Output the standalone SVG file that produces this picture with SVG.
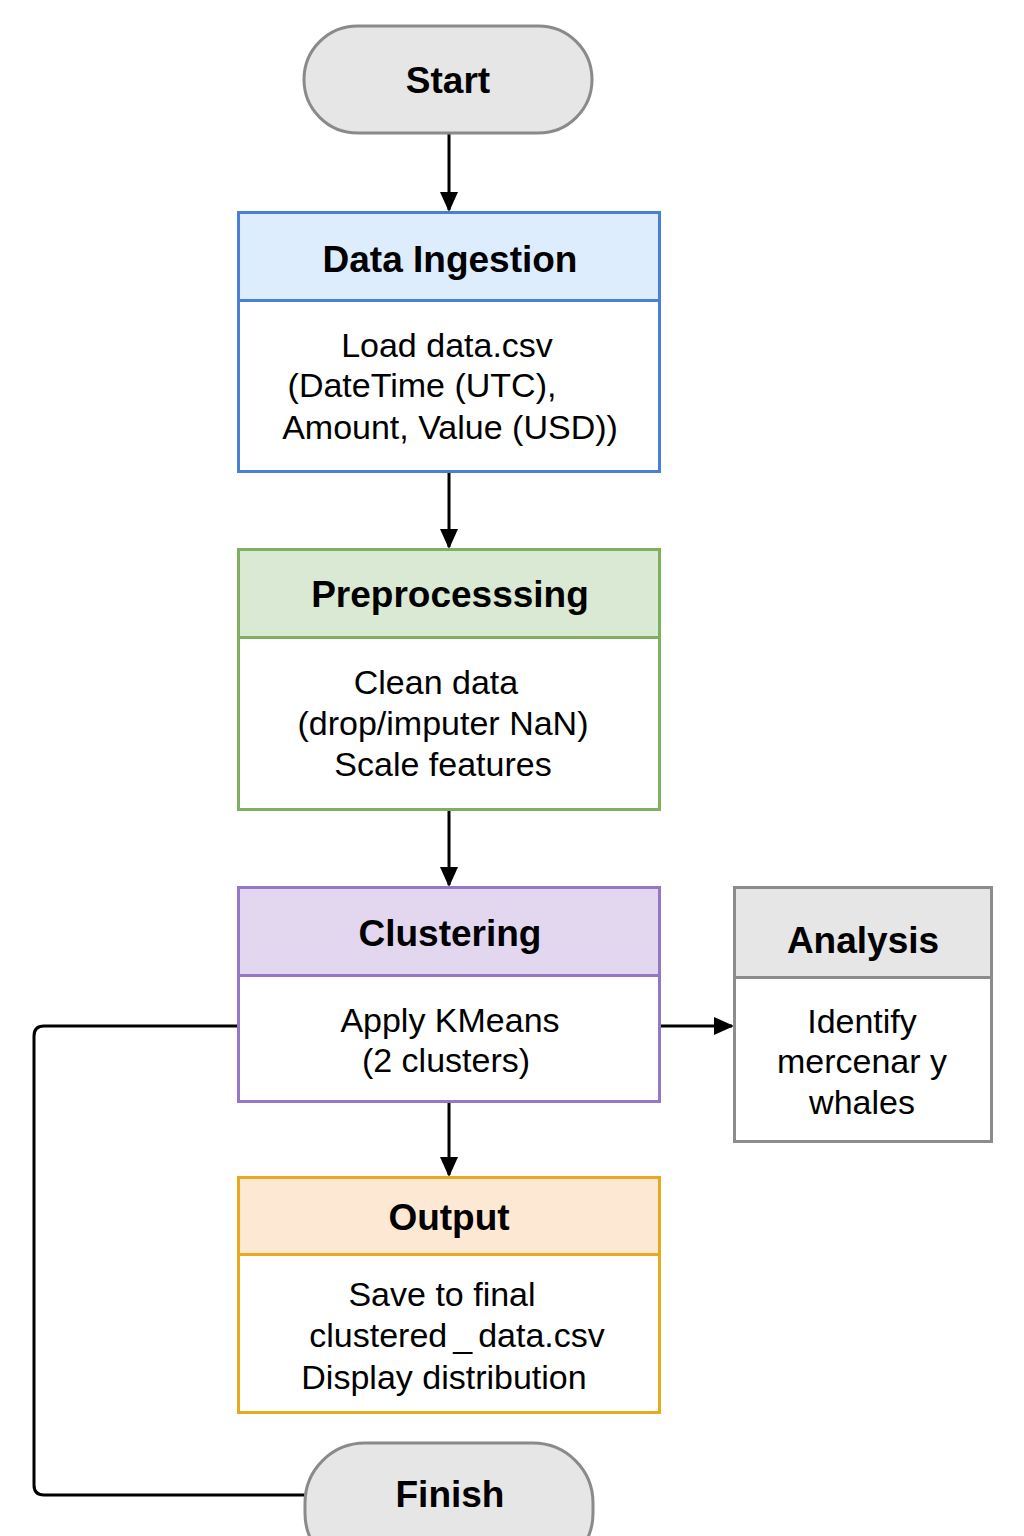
<svg xmlns="http://www.w3.org/2000/svg" width="1024" height="1536" viewBox="0 0 1024 1536">
<defs>
<style>
.title{font-family:"Liberation Sans",Arial,sans-serif;font-weight:bold;font-size:37px;fill:#000;text-anchor:middle}
.body{font-family:"Liberation Sans",Arial,sans-serif;font-size:34px;fill:#000;text-anchor:middle}
.pill{fill:#e6e6e6;stroke:#8a8a8a;stroke-width:3}
.conn{fill:none;stroke:#000;stroke-width:3}
</style>
<marker id="arr" markerWidth="20" markerHeight="18" refX="18" refY="9" orient="auto" markerUnits="userSpaceOnUse" viewBox="0 0 20 18">
<path d="M0,0 L20,9 L0,18 Z" fill="#000"/>
</marker>
</defs>
<rect width="1024" height="1536" fill="#fff"/>

<g id="connectors">
<line class="conn" x1="449" y1="134" x2="449" y2="210" marker-end="url(#arr)"/>
<line class="conn" x1="449" y1="473" x2="449" y2="547" marker-end="url(#arr)"/>
<line class="conn" x1="449" y1="811" x2="449" y2="885" marker-end="url(#arr)"/>
<line class="conn" x1="449" y1="1103" x2="449" y2="1175" marker-end="url(#arr)"/>
<line class="conn" x1="661" y1="1026" x2="732" y2="1026" marker-end="url(#arr)"/>
<path class="conn" d="M238,1026 H44 Q34,1026 34,1036 V1485 Q34,1495 44,1495 H305"/>
</g>

<g id="start">
<rect class="pill" x="304" y="26" width="288" height="107" rx="53.5"/>
<text class="title" x="448" y="93">Start</text>
</g>

<g id="data-ingestion">
<rect x="238.5" y="212.5" width="421" height="259" fill="#fff" stroke="#4a7fd6" stroke-width="3"/>
<rect x="240" y="214" width="418" height="86" fill="#deedfd"/>
<line x1="238.5" y1="300.5" x2="659.5" y2="300.5" stroke="#4a7fd6" stroke-width="3"/>
<text class="title" x="450" y="272">Data Ingestion</text>
<text class="body" x="447" y="357">Load data.csv</text>
<text class="body" x="422" y="397">(DateTime (UTC),</text>
<text class="body" x="450" y="439">Amount, Value (USD))</text>
</g>

<g id="preprocessing">
<rect x="238.5" y="549.5" width="421" height="260" fill="#fff" stroke="#7fb060" stroke-width="3"/>
<rect x="240" y="551" width="418" height="86" fill="#dae9d4"/>
<line x1="238.5" y1="637.5" x2="659.5" y2="637.5" stroke="#7fb060" stroke-width="3"/>
<text class="title" x="450" y="607">Preprocesssing</text>
<text class="body" x="436" y="694">Clean data</text>
<text class="body" x="443" y="735">(drop/imputer NaN)</text>
<text class="body" x="443" y="776">Scale features</text>
</g>

<g id="clustering">
<rect x="238.5" y="887.5" width="421" height="214" fill="#fff" stroke="#9577c7" stroke-width="3"/>
<rect x="240" y="889" width="418" height="86" fill="#e2d7ef"/>
<line x1="238.5" y1="975.5" x2="659.5" y2="975.5" stroke="#9577c7" stroke-width="3"/>
<text class="title" x="450" y="946">Clustering</text>
<text class="body" x="450" y="1032">Apply KMeans</text>
<text class="body" x="446" y="1072">(2 clusters)</text>
</g>

<g id="analysis">
<rect x="734.5" y="887.5" width="257" height="254" fill="#fff" stroke="#8c8c8c" stroke-width="3"/>
<rect x="736" y="889" width="254" height="88" fill="#e6e6e6"/>
<line x1="734.5" y1="977.5" x2="991.5" y2="977.5" stroke="#8c8c8c" stroke-width="3"/>
<text class="title" x="863" y="953">Analysis</text>
<text class="body" x="862" y="1033">Identify</text>
<text class="body" x="862" y="1073">mercenar y</text>
<text class="body" x="862" y="1114">whales</text>
</g>

<g id="output">
<rect x="238.5" y="1177.5" width="421" height="235" fill="#fff" stroke="#e8a920" stroke-width="3"/>
<rect x="240" y="1179" width="418" height="75" fill="#fde9d3"/>
<line x1="238.5" y1="1254.5" x2="659.5" y2="1254.5" stroke="#e8a920" stroke-width="3"/>
<text class="title" x="449" y="1230">Output</text>
<text class="body" x="442" y="1306">Save to final</text>
<text class="body" x="457" y="1347">clustered<tspan dx="6">_</tspan><tspan dx="6">data.csv</tspan></text>
<text class="body" x="444" y="1389">Display distribution</text>
</g>

<g id="finish">
<rect class="pill" x="305" y="1443" width="288" height="130" rx="60"/>
<text class="title" x="450" y="1507">Finish</text>
</g>
</svg>
